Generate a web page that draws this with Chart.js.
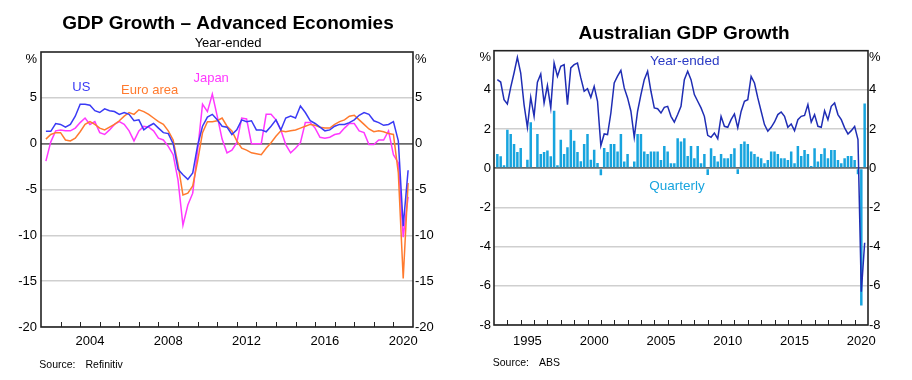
<!DOCTYPE html>
<html><head><meta charset="utf-8">
<script src="https://cdn.jsdelivr.net/npm/chart.js@4.4.1/dist/chart.umd.min.js"></script>
<style>
html,body{margin:0;padding:0;background:#fff;}
#wrap{position:relative;width:912px;height:380px;overflow:hidden;}
canvas{position:absolute;top:0;}
#c1{left:0;} #c2{left:456px;}
</style></head><body>
<div id="wrap"><canvas id="c1" width="456" height="380"></canvas><canvas id="c2" width="456" height="380"></canvas></div>
<script>
// ---------- Data ----------
// Left panel: year-ended GDP growth, quarterly from 2002 Q1 to 2020 Q3
const usYearEnded = [1.35,1.35,2.2,2.1,1.8,2.1,3.0,4.3,4.3,4.2, 3.6,3.4,3.8,3.6,3.5,3.2,3.4,3.2,2.5,2.6,
  1.5,1.9,2.2,1.7,1.2,1.1,0.0,-2.8,-3.4,-3.9, -3.2,-0.2,1.9,2.9,3.2,2.6,1.9,1.8,1.0,1.5,
  2.6,2.4,2.5,1.5,1.5,1.3,1.9,2.6,1.5,2.8, 3.0,2.8,4.1,3.4,2.5,2.2,1.8,1.4,1.5,1.9,
  2.1,2.1,2.3,2.6,3.1,3.4,3.2,2.5,2.3,2.0, 2.1,2.4,0.3,-9.0,-2.9];
const euroYearEnded = [0.5,1.0,1.2,1.2,0.4,0.3,0.6,1.3,2.1,2.4, 2.1,1.7,1.5,1.8,2.1,2.5,3.0,3.4,3.2,3.7,
  3.5,3.2,2.8,2.4,2.1,1.4,0.4,-2.3,-5.6,-5.4, -4.6,-1.9,1.2,2.4,2.4,2.5,2.8,1.9,1.4,0.3,
  -0.5,-0.7,-1.0,-1.1,-1.2,-0.5,0.1,0.8,1.4,1.3, 1.4,1.5,1.7,1.9,2.1,2.0,1.8,1.7,1.7,2.1,
  2.4,2.6,3.0,3.1,2.6,2.1,1.6,1.3,1.4,1.3, 1.1,1.0,-3.2,-14.7,-4.3];
const japanYearEnded = [-1.9,0.2,1.4,1.5,1.4,1.4,1.7,2.3,2.8,2.1, 2.4,1.2,1.0,1.5,2.1,2.4,2.1,1.4,0.3,1.4,
  1.9,1.8,1.4,0.6,0.4,-0.3,-1.2,-4.0,-8.9,-6.7, -5.4,-0.7,4.3,3.5,5.4,3.0,0.5,-1.0,-0.7,0.1,
  2.8,2.7,0.0,0.0,0.0,3.2,3.2,2.6,1.5,-0.1, -1.0,-0.5,0.1,2.3,2.3,1.7,0.7,0.6,0.7,1.0,
  1.1,1.7,2.2,2.2,1.4,1.2,-0.1,-0.1,0.4,0.4, 1.4,-1.2,-2.1,-10.2,-5.8];

// Right panel: Australian GDP growth, quarterly from 1993 Q1 to 2020 Q3
const ausQuarterly = [0.73,0.61,0.15,1.97,1.75,1.24,0.83,1.04,0.05,0.44, 2.35,0.05,1.75,0.73,0.83,0.9,0.61,2.94,0.15,1.46,
  0.73,1.07,1.97,1.41,0.83,0.36,1.24,1.75,0.44,0.95, 0.27,-0.36,1.04,0.83,1.24,1.24,0.85,1.75,0.34,0.73,
  0.08,0.34,1.75,1.75,0.85,0.73,0.85,0.85,0.85,0.42, 1.14,0.85,0.25,0.25,1.53,1.36,1.53,0.63,1.14,0.51,
  1.14,0.25,0.73,-0.34,1.02,0.63,0.34,0.73,0.51,0.51, 0.73,1.02,-0.29,1.24,1.36,1.24,0.85,0.73,0.59,0.51,
  0.25,0.42,0.85,0.85,0.73,0.51,0.51,0.42,0.85,0.25, 1.14,0.63,0.93,0.73,0.12,1.02,0.34,0.73,1.02,0.51,
  0.93,0.93,0.42,0.25,0.51,0.63,0.63,0.42,-0.3,-7.0, 3.3];
const ausYearEnded = [4.52,4.40,3.50,3.28,4.13,4.86,5.66,4.86,3.25,2.09, 3.62,2.65,4.39,4.81,3.33,4.22,3.08,5.37,4.69,5.2,
  5.29,3.25,5.12,5.29,5.37,4.61,3.93,4.06,3.62,4.18, 3.42,1.15,1.75,1.72,2.82,4.35,4.7,5.0,4.1,3.59,
  2.91,1.58,2.91,3.76,4.52,4.95,3.93,3.08,3.04,2.82, 3.11,3.16,2.65,2.36,2.74,3.16,4.52,4.95,4.52,3.76,
  3.42,3.08,2.65,1.68,1.58,1.80,1.51,2.65,2.14,2.09, 2.48,2.77,2.06,2.9,3.42,3.5,4.69,4.35,3.59,2.91,
  2.23,1.89,2.09,2.36,2.74,2.87,2.65,2.09,2.26,1.92, 2.48,2.65,2.70,3.25,2.36,2.74,2.14,2.09,2.94,2.48,
  3.16,3.33,2.74,2.48,2.06,1.75,1.92,2.14,1.46,-6.3, -3.8];

// Categories and tick labels
function quarterLabels(startYear, count){ const out=[]; for(let i=0;i<count;i++){ out.push((startYear+Math.floor(i/4))+'Q'+(i%4+1)); } return out; }
const advQuarters = quarterLabels(2002, usYearEnded.length);
const ausQuarters = quarterLabels(1993, ausQuarterly.length);
const advYearLabels = [2004, 2008, 2012, 2016, 2020];
const ausYearLabels = [1995, 2000, 2005, 2010, 2015, 2020];
const advYTicks = [-20, -15, -10, -5, 0, 5];
const ausYTicks = [-8, -6, -4, -2, 0, 2, 4];
const advRange = {xmin: 2002, xmax: 2021, ymin: -20, ymax: 10};
const ausRange = {xmin: 1993, xmax: 2021, ymin: -8, ymax: 6};

// ---------- Helpers ----------
function qToX(label){ const y = +label.slice(0,4), q = +label.slice(5); return y + q/4; }
function pts(cats, vals){ return cats.map((c,i)=>({x:qToX(c), y:vals[i]})); }
const FONT = "'Liberation Sans', Arial, Helvetica, sans-serif";
const UNIT = '%';

const decor = {
  id: 'decor',
  afterDraw(chart, args, o) {
    const ctx = chart.ctx, a = chart.chartArea, xs = chart.scales.x, ys = chart.scales.y;
    ctx.save();
    // year tick marks (inside, bottom)
    ctx.strokeStyle = o.frameColor; ctx.lineWidth = 1;
    for (let yr = xs.min + 1; yr < xs.max; yr++) {
      const px = Math.round(xs.getPixelForValue(yr)) + 0.5;
      ctx.beginPath(); ctx.moveTo(px, a.bottom); ctx.lineTo(px, a.bottom - 5); ctx.stroke();
    }
    // frame
    ctx.lineWidth = 1.6;
    ctx.strokeRect(a.left, a.top, a.right - a.left, a.bottom - a.top);
    // series labels
    ctx.textAlign = 'center'; ctx.textBaseline = 'middle';
    (o.labels || []).forEach(l => {
      ctx.font = l.font; ctx.fillStyle = l.color;
      ctx.fillText(l.text, xs.getPixelForValue(l.x), ys.getPixelForValue(l.y));
    });
    // source
    ctx.textAlign = 'left'; ctx.fillStyle = '#000'; ctx.font = '10.5px ' + FONT;
    (o.source || []).forEach(s => ctx.fillText(s.text, s.x, s.y));
    ctx.restore();
  }
};

function yAxis(pos, ticksArr, unitAt, width, pad, ymin, ymax, grid) {
  return {
    type: 'linear', position: pos, min: ymin, max: ymax,
    afterBuildTicks: s => { s.ticks = ticksArr.map(v => ({value: v})).concat([{value: unitAt}]); },
    afterFit: s => { s.width = width; },
    ticks: { callback: v => (v === unitAt ? UNIT : String(v)), color: '#000', font: {family: FONT, size: 13}, padding: pad, autoSkip: false },
    border: { display: false },
    grid: grid ? {
      drawTicks: false,
      color: c => (c.tick && c.tick.value === 0) ? '#6a6a6a' : ((c.tick && c.tick.value === unitAt) ? 'rgba(0,0,0,0)' : '#cfcfcf'),
      lineWidth: c => (c.tick && c.tick.value === 0) ? 1.8 : 1.5
    } : { drawOnChartArea: false, drawTicks: false }
  };
}
function xAxis(labels, xmin, xmax, height, pad) {
  return {
    type: 'linear', position: 'bottom', min: xmin, max: xmax, offset: false,
    afterBuildTicks: s => { s.ticks = labels.map(yr => ({value: yr + 0.5})); },
    afterFit: s => { s.height = height; },
    ticks: { callback: v => String(Math.floor(v)), color: '#000', font: {family: FONT, size: 13}, padding: pad, maxRotation: 0, autoSkip: false },
    border: { display: false },
    grid: { display: false, drawTicks: false, offset: false }
  };
}

// ---------- Left chart ----------
new Chart(document.getElementById('c1'), {
  type: 'line',
  data: { datasets: [
    { label: 'US', data: pts(advQuarters, usYearEnded), borderColor: '#3a3af5', borderWidth: 1.5, pointRadius: 0, tension: 0 },
    { label: 'Euro area', data: pts(advQuarters, euroYearEnded), borderColor: '#ff7a2e', borderWidth: 1.5, pointRadius: 0, tension: 0 },
    { label: 'Japan', data: pts(advQuarters, japanYearEnded), borderColor: '#ff38ff', borderWidth: 1.5, pointRadius: 0, tension: 0 }
  ]},
  options: {
    responsive: false, animation: false, events: [],
    layout: { padding: 0 },
    scales: {
      x: xAxis(advYearLabels, advRange.xmin, advRange.xmax, 53, 7),
      y: yAxis('left', advYTicks, 9.23, 41, 4, advRange.ymin, advRange.ymax, true),
      y2: yAxis('right', advYTicks, 9.23, 43, 2, advRange.ymin, advRange.ymax, false)
    },
    plugins: {
      legend: { display: false }, tooltip: { enabled: false },
      title: { display: true, text: 'GDP Growth – Advanced Economies', color: '#000', font: {family: FONT, size: 19, weight: 'bold'}, padding: {top: 12.6, bottom: 0.5} },
      subtitle: { display: true, text: 'Year-ended', color: '#000', font: {family: FONT, size: 13}, padding: {top: 0, bottom: 0.5} },
      decor: {
        frameColor: '#222',
        labels: [
          { text: 'US', x: 2004.06, y: 6.1, color: '#3a3af5', font: '13px ' + FONT },
          { text: 'Euro area', x: 2007.55, y: 5.85, color: '#ff7a2e', font: '13px ' + FONT },
          { text: 'Japan', x: 2010.69, y: 7.1, color: '#ff38ff', font: '13px ' + FONT }
        ],
        source: [ { text: 'Source:', x: 39.3, y: 365 }, { text: 'Refinitiv', x: 85.5, y: 365 } ]
      }
    }
  },
  plugins: [decor]
});

// ---------- Right chart ----------
new Chart(document.getElementById('c2'), {
  type: 'bar',
  data: { datasets: [
    { type: 'line', label: 'Year-ended', data: pts(ausQuarters, ausYearEnded), borderColor: '#1f2db4', borderWidth: 1.5, pointRadius: 0, tension: 0 },
    { type: 'bar', label: 'Quarterly', data: pts(ausQuarters, ausQuarterly), backgroundColor: '#17a4de', borderWidth: 0, barPercentage: 0.75, categoryPercentage: 1.0 }
  ]},
  options: {
    responsive: false, animation: false, events: [],
    layout: { padding: 0 },
    scales: {
      x: xAxis(ausYearLabels, ausRange.xmin, ausRange.xmax, 55, 9),
      y: yAxis('left', ausYTicks, 5.64, 38, 3, ausRange.ymin, ausRange.ymax, true),
      y2: yAxis('right', ausYTicks, 5.64, 44, 1, ausRange.ymin, ausRange.ymax, false)
    },
    plugins: {
      legend: { display: false }, tooltip: { enabled: false },
      title: { display: true, text: 'Australian GDP Growth', color: '#000', font: {family: FONT, size: 19, weight: 'bold'}, padding: {top: 21.9, bottom: 6} },
      decor: {
        frameColor: '#222',
        labels: [
          { text: 'Year-ended', x: 2007.28, y: 5.47, color: '#2a3ac4', font: '13.5px ' + FONT },
          { text: 'Quarterly', x: 2006.7, y: -0.93, color: '#17a4de', font: '13.5px ' + FONT }
        ],
        source: [ { text: 'Source:', x: 36.7, y: 363 }, { text: 'ABS', x: 83, y: 363 } ]
      }
    }
  },
  plugins: [decor]
});
</script>
</body></html>
